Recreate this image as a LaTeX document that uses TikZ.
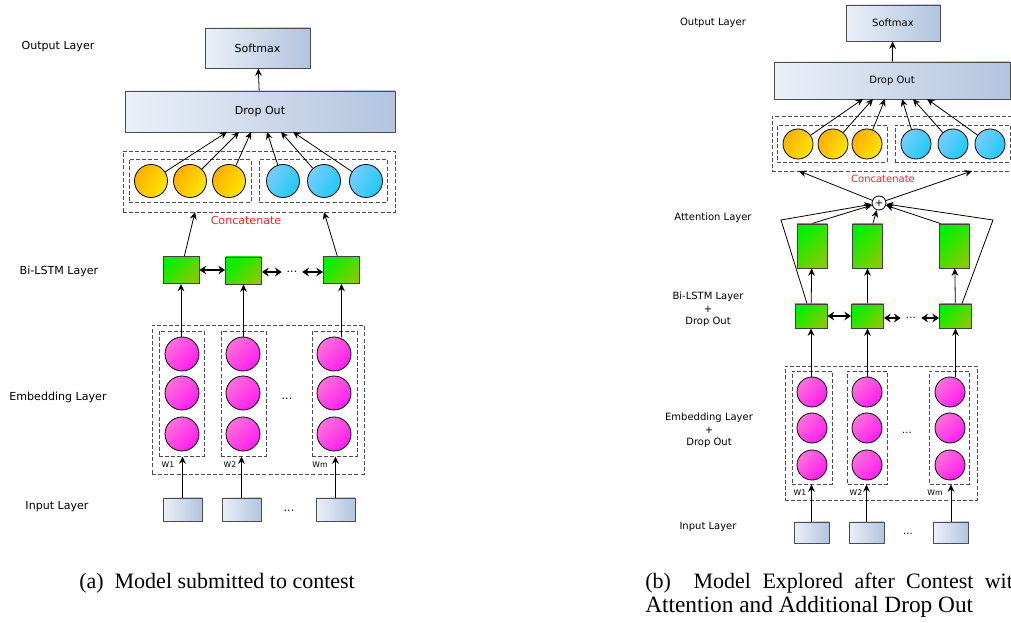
\documentclass[tikz,border=0pt]{standalone}
\usepackage{fontspec}
\setmainfont{Liberation Serif}
\newfontfamily\labelfont{DejaVu Sans}
\usetikzlibrary{arrows.meta}
\definecolor{boxlight}{HTML}{EBF0F8}
\definecolor{boxdark}{HTML}{B2C4DF}
\definecolor{lstmtop}{HTML}{00F200}
\definecolor{lstmbot}{HTML}{84CC00}
\definecolor{fwtop}{HTML}{FFAE00}
\definecolor{fwbot}{HTML}{FFE600}
\definecolor{bwtop}{HTML}{78CCFF}
\definecolor{bwbot}{HTML}{1CCBF4}
\definecolor{embtop}{HTML}{FF70DC}
\definecolor{embbot}{HTML}{FF1CEE}
\definecolor{catred}{HTML}{FF2222}
\tikzset{
  sz/.style 2 args={minimum width=#1*0.75pt,minimum height=#2*0.75pt},
  bluebox/.style={draw=black!70,line width=0.7pt,left color=boxlight,right color=boxdark,inner sep=0pt},
  lstmcell/.style={draw=black!75,line width=0.7pt,top color=lstmtop,bottom color=lstmbot,shading angle=45,inner sep=0pt},
  dashbox/.style={draw=black!70,line width=0.7pt,dash pattern=on 3pt off 1.6pt,inner sep=0pt},
  fwcell/.style={circle,draw=black,line width=0.6pt,top color=fwtop,bottom color=fwbot,shading angle=60,inner sep=0pt},
  bwcell/.style={circle,draw=black,line width=0.6pt,top color=bwtop,bottom color=bwbot,shading angle=60,inner sep=0pt},
  embcell/.style={circle,draw=black,line width=0.6pt,top color=embtop,bottom color=embbot,shading angle=45,inner sep=0pt},
  link/.style={-{Stealth[length=5.5pt,width=5pt]},line width=0.6pt},
  twoway/.style={{Stealth[length=5pt,width=6.5pt]}-{Stealth[length=5pt,width=6.5pt]},line width=0.9pt},
  dots/.style={inner sep=0pt,minimum width=15pt},
  wlabel/.style={font=\labelfont\fontsize{5.8}{6}\selectfont},
  catlabel/.style={text=catred},
  caption/.style={font=\rmfamily\fontsize{16.5}{18}\selectfont,anchor=west,inner sep=0pt}
}
\begin{document}
\begin{tikzpicture}[x=0.75pt,y=-0.75pt,every node/.append style={font=\labelfont\fontsize{8.3}{9.4}\selectfont}]
\useasboundingbox (0,0) rectangle (1011,623);
\clip (0,0) rectangle (1011,623);

% (a) model submitted to the contest
    \node (aOutLbl) at (58,47) {Output Layer};
    \node (aLstmLbl) at (59,271) {Bi-LSTM Layer};
    \node (aEmbLbl) at (58,397) {Embedding Layer};
    \node (aInLbl) at (57,507) {Input Layer};

    \node[bluebox,sz={105}{40}] (aSoft) at (257.5,48) {Softmax};
    \node[bluebox,sz={270}{41}] (aDrop) at (260,111.5) {Drop Out};
    \draw[link] (aDrop) -- (aSoft);

    \node[dashbox,sz={272}{61}] (aCat) at (259,181.5) {};
    \node[dashbox,sz={122}{43}] (aFw) at (190,180.5) {};
    \node[dashbox,sz={128}{43}] (aBw) at (323,180.5) {};
    \foreach \x [count=\i] in {151,190,229}
        \node[fwcell,minimum size=33*0.75pt] (af\i) at (\x,181) {};
    \foreach \x [count=\i] in {283,324,366}
        \node[bwcell,minimum size=33*0.75pt] (ab\i) at (\x,181) {};
    \foreach \t [count=\i] in {227,239,251,267,281,293}
        \coordinate (aDropIn\i) at (\t,132);
    \foreach \i in {1,2,3} {
        \draw[link] (af\i) -- (aDropIn\i);
        \pgfmathtruncatemacro{\j}{\i+3}
        \draw[link] (ab\i) -- (aDropIn\j);
    }
    \node[catlabel] (aCatLbl) at (246,220) {Concatenate};
    \coordinate (aCatIn1) at (195,212);
    \coordinate (aCatIn2) at (324,212);

    \node[lstmcell,sz={36}{27}] (al1) at (181,270) {};
    \node[lstmcell,sz={36}{27}] (al2) at (243.5,270.5) {};
    \node[lstmcell,sz={36}{27}] (al3) at (341.5,270) {};
    \node[dots] (aDots1) at (292,272) {...};
    \draw[link] (al1) -- (aCatIn1);
    \draw[link] (al3) -- (aCatIn2);
    \draw[twoway] (al1.east) -- (al2.west |- al1.east);
    \draw[twoway] (al2.east |- aDots1) -- (aDots1.west);
    \draw[twoway] (aDots1.east) -- (al3.west |- aDots1);

    \node[dashbox,sz={212}{149}] (aEmb) at (258,399.5) {};
    \foreach \x [count=\i] in {181.5,243.5,334.5}
        \node[dashbox,sz={45}{125}] (ac\i) at (\x,393.5) {};
    \foreach \x [count=\i] in {182,243,334}
        \foreach \y [count=\j] in {354,393,434}
            \node[embcell,minimum size=34*0.75pt] (ae\i\j) at (\x,\y) {};
    \node[dots] (aDots2) at (287,399) {...};
    \node[wlabel] (aw1) at (168,465) {W1};
    \node[wlabel] (aw2) at (230,465) {W2};
    \node[wlabel] (aw3) at (320,465) {Wm};
    \foreach \x [count=\i] in {182.5,241.5,335.5}
        \node[bluebox,sz={39}{23}] (ai\i) at (\x,509.5) {};
    \node[dots] (aDots3) at (289,511) {...};
    \foreach \i in {1,2,3} {
        \draw[link] (al\i |- ae\i1.north) -- (al\i);
        \draw[link] (ai\i) -- (ai\i |- ac\i.south);
    }
    \node[caption] (aCap) at (79,583) {(a)\ \ Model submitted to contest};

% (b) model with attention and extra drop out
\begin{scope}[every node/.append style={font=\labelfont\fontsize{7.5}{9.4}\selectfont}]
    \node (bOutLbl) at (713,23) {Output Layer};
    \node (bAttLbl) at (713,218) {Attention Layer};
    \node[align=center] (bLstmLbl) at (708,309.5) {Bi-LSTM Layer\\+\\Drop Out};
    \node[align=center] (bEmbLbl) at (709,430.5) {Embedding Layer\\+\\Drop Out};
    \node (bInLbl) at (708,527) {Input Layer};

    \node[bluebox,sz={94}{36}] (bSoft) at (893,23) {Softmax};
    \node[bluebox,sz={236}{37}] (bDrop) at (892,80.5) {Drop Out};
    \draw[link] (bDrop) -- (bSoft);

    \node[dashbox,sz={243}{55}] (bCat) at (893.5,143.5) {};
    \node[dashbox,sz={110}{37}] (bFw) at (832,143.5) {};
    \node[dashbox,sz={115}{37}] (bBw) at (952.5,143.5) {};
    \foreach \x [count=\i] in {798,833,867}
        \node[fwcell,minimum size=30*0.75pt] (bf\i) at (\x,144) {};
    \foreach \x [count=\i] in {916,953,990}
        \node[bwcell,minimum size=30*0.75pt] (bb\i) at (\x,144) {};
    \foreach \t [count=\i] in {863,873,885,902,913,927}
        \coordinate (bDropIn\i) at (\t,99);
    \foreach \i in {1,2,3} {
        \draw[link] (bf\i) -- (bDropIn\i);
        \pgfmathtruncatemacro{\j}{\i+3}
        \draw[link] (bb\i) -- (bDropIn\j);
    }
    \node[catlabel] (bCatLbl) at (883,179) {Concatenate};
    \coordinate (bCatIn1) at (799,171);
    \coordinate (bCatIn2) at (972,171);

    \node[circle,draw,line width=0.6pt,fill=white,minimum size=14*0.75pt,inner sep=0pt] (bSum) at (879,203) {+};
    \draw[link] (bSum) -- (bCatIn1);
    \draw[link] (bSum) -- (bCatIn2);

    \foreach \x [count=\i] in {812,867.5,954.5}
        \node[lstmcell,sz={30}{44}] (bt\i) at (\x,246) {};
    \foreach \x [count=\i] in {811,867.5,955.5}
        \node[lstmcell,sz={32}{24}] (bl\i) at (\x,316) {};
    \foreach \i in {1,2,3}
        \draw[link] (bl\i) -- (bt\i);
    \draw[link] (bt1.north) -- (bSum);
    \draw[link] ([xshift=4pt]bt2.north) -- (bSum);
    \draw[link] ([xshift=1pt]bt3.north west) -- (bSum);
    \coordinate (bBendL) at (781,220);
    \coordinate (bBendR) at (993,220);
    \draw[link] ([xshift=-3pt]bl1.north) -- (bBendL) -- (bSum);
    \draw[link] ([xshift=4.9pt]bl3.north) -- (bBendR) -- (bSum);

    \node[dots] (bDots1) at (911,318) {...};
    \draw[twoway] (bl1) -- (bl2);
    \draw[twoway] (bl2.east |- bDots1) -- (bDots1.west);
    \draw[twoway] (bDots1.east) -- (bl3.west |- bDots1);

    \node[dashbox,sz={192}{134}] (bEmb) at (881,433) {};
    \foreach \x [count=\i] in {812,867.5,949.5}
        \node[dashbox,sz={40}{113}] (bc\i) at (\x,427.5) {};
    \foreach \x [count=\i] in {812,867,950}
        \foreach \y [count=\j] in {392,428,465}
            \node[embcell,minimum size=30*0.75pt] (be\i\j) at (\x,\y) {};
    \node[dots] (bDots2) at (907,433) {...};
    \node[wlabel] (bw1) at (800,493) {W1};
    \node[wlabel] (bw2) at (856,493) {W2};
    \node[wlabel] (bw3) at (935,493) {Wm};
    \foreach \x [count=\i] in {811.5,866.5,951}
        \node[bluebox,sz={35}{21}] (bi\i) at (\x,532.5) {};
    \node[dots] (bDots3) at (908,534) {...};
    \foreach \i in {1,2,3} {
        \draw[link] (bl\i |- be\i1.north) -- (bl\i);
        \draw[link] (bi\i) -- (bi\i |- bc\i.south);
    }
\end{scope}
    \node[caption] (bCap1) at (645,583) {\makebox[284pt][s]{(b)\ \ Model Explored after Contest with}};
    \node[caption,font=\rmfamily\fontsize{17.5}{18}\selectfont] (bCap2) at (645,607) {Attention and Additional Drop Out};
\end{tikzpicture}
\end{document}
